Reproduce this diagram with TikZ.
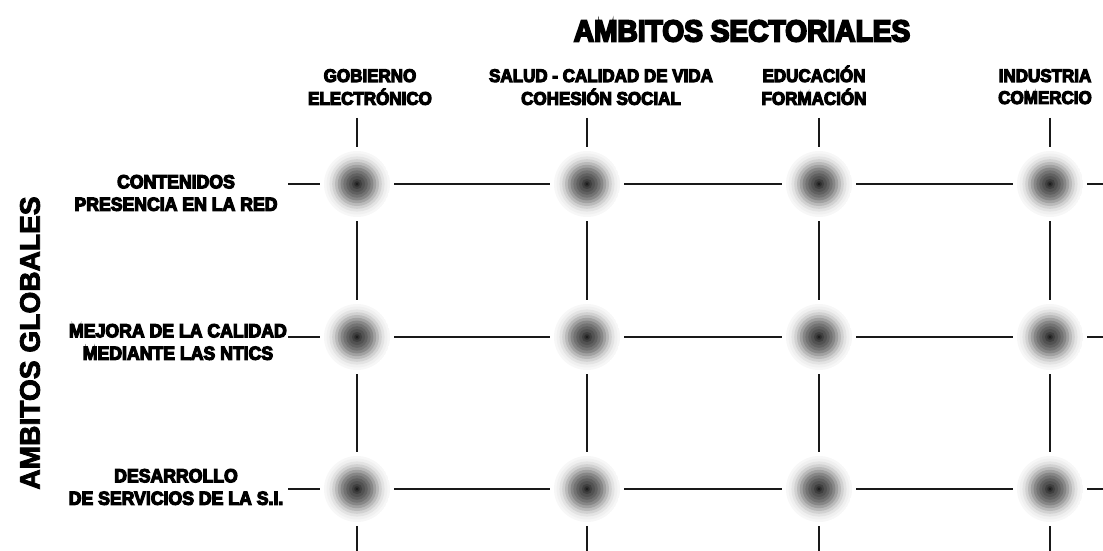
\documentclass[tikz,border=0pt]{standalone}
\usepackage{fontspec}
\setmainfont{Liberation Sans}
\newfontfamily\heavyfont{Liberation Sans Bold}[FakeBold=6,FakeStretch=0.93]
\newfontfamily\sidefont{Liberation Sans Bold}[FakeBold=3]
\usetikzlibrary{positioning}
\newcommand{\twolines}[2]{\begin{tabular}[t]{@{}c@{}}#1\\#2\end{tabular}}

\begin{document}
\begin{tikzpicture}[x=0.025cm,y=-0.025cm]
    \tikzset{ball/.style={shape=circle,minimum size=1.65cm,inner sep=0pt,outer sep=0.1cm,
        path picture={
          \foreach \rad/\shade in {0.825/3,0.76/6,0.69/11,0.62/18,0.55/27,0.48/37,0.41/47,0.34/55,0.27/62,0.2/68,0.13/75,0.07/82,0.03/90}
            \fill[black!\shade] (path picture bounding box.center) circle (\rad cm);
        }}}
    \tikzset{link/.style={line width=1.2pt,black!90}}
    \tikzset{head/.style={font=\heavyfont\fontsize{13}{15.6}\selectfont,inner sep=0pt,anchor=base}}
    \tikzset{rowlabel/.style={font=\heavyfont\fontsize{13.5}{16}\selectfont,align=center,inner sep=0pt}}
    \useasboundingbox (0,0) rectangle (1103,551);

    \node[font=\heavyfont\fontsize{21.5}{24}\selectfont] (title) at (742,31) {AMBITOS SECTORIALES};
    \node[rotate=90,font=\sidefont\fontsize{20}{24}\selectfont] (side) at (30,343) {AMBITOS GLOBALES};

    % column headers
    \node[head] (h-1) at (370,82) {\twolines{GOBIERNO}{ELECTRÓNICO}};
    \node[head] (h-2) at (601,82) {\twolines{SALUD - CALIDAD DE VIDA}{COHESIÓN SOCIAL}};
    \node[head] (h-3) at (814,82) {\twolines{EDUCACIÓN}{FORMACIÓN}};
    \node[head] (h-4) at (1045,82) {\twolines{INDUSTRIA}{COMERCIO}};

    % row labels
    \node[rowlabel] (g-1) at (176,193) {CONTENIDOS\\PRESENCIA EN LA RED};
    \node[rowlabel] (g-2) at (178,342) {MEJORA DE LA CALIDAD\\MEDIANTE LAS NTICS};
    \node[rowlabel] (g-3) at (176,487) {DESARROLLO\\DE SERVICIOS DE LA S.I.};

    % grid of balls
    \foreach \x [count=\c] in {357,587,819,1050} {
      \coordinate (t-\c) at (\x,118);
      \coordinate (u-\c) at (\x,551);
      \foreach \y [count=\r] in {184,337,489}
        \node[ball] (b-\r-\c) at (\x,\y) {};
    }
    \foreach \y [count=\r] in {184,337,489} {
      \coordinate (l-\r) at (288,\y);
      \coordinate (r-\r) at (1103,\y);
    }

    \foreach \r in {1,2,3}
      \draw[link] (l-\r) -- (b-\r-1) -- (b-\r-2) -- (b-\r-3) -- (b-\r-4) -- (r-\r);
    \foreach \c in {1,2,3,4}
      \draw[link] (t-\c) -- (b-1-\c) -- (b-2-\c) -- (b-3-\c) -- (u-\c);
\end{tikzpicture}
\end{document}
